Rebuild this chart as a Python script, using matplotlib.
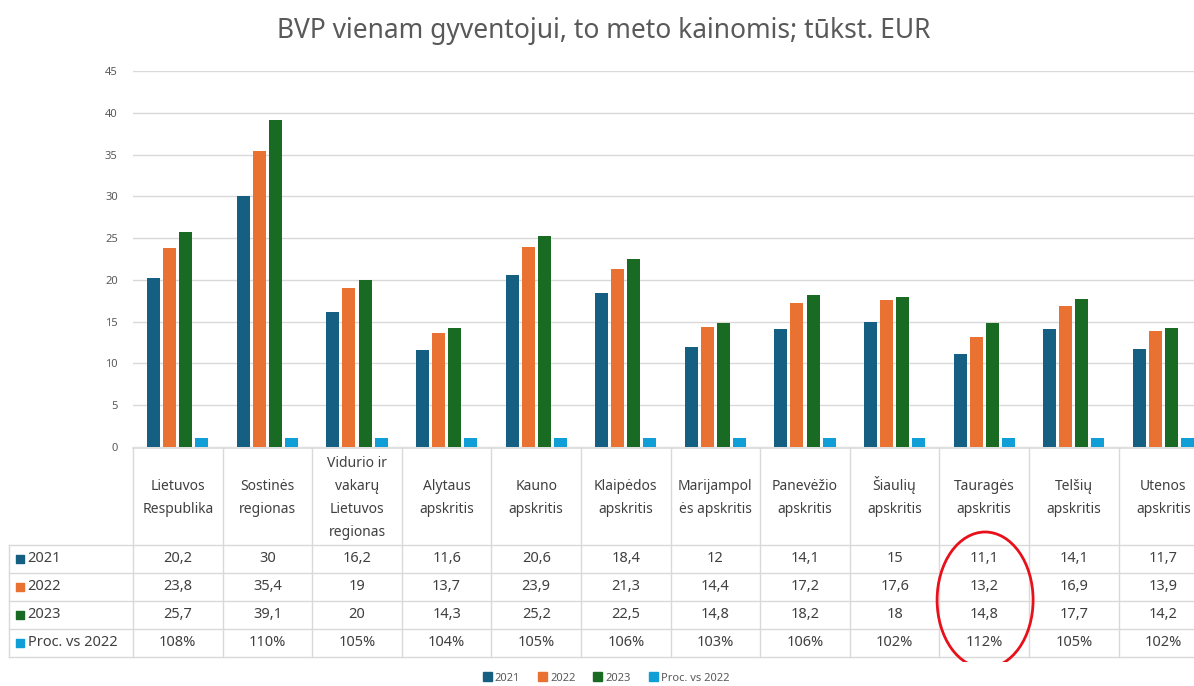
import matplotlib
matplotlib.use("Agg")
import matplotlib.pyplot as plt
import numpy as np
from matplotlib.patches import Ellipse, Patch

plt.rcParams['font.family'] = ['Noto Sans', 'DejaVu Sans']

# duomenys
regions = ["Lietuvos\nRespublika", "Sostinės\nregionas", "Vidurio ir\nvakarų\nLietuvos\nregionas",
           "Alytaus\napskritis", "Kauno\napskritis", "Klaipėdos\napskritis",
           "Marijampol\nės apskritis", "Panevėžio\napskritis", "Šiaulių\napskritis",
           "Tauragės\napskritis", "Telšių\napskritis", "Utenos\napskritis"]
v2021 = [20.2, 30, 16.2, 11.6, 20.6, 18.4, 12, 14.1, 15, 11.1, 14.1, 11.7]
v2022 = [23.8, 35.4, 19, 13.7, 23.9, 21.3, 14.4, 17.2, 17.6, 13.2, 16.9, 13.9]
v2023 = [25.7, 39.1, 20, 14.3, 25.2, 22.5, 14.8, 18.2, 18, 14.8, 17.7, 14.2]
proc = [108, 110, 105, 104, 105, 106, 103, 106, 102, 112, 105, 102]
series_names = ["2021", "2022", "2023", "Proc. vs 2022"]
colors = ["#156082", "#E97132", "#196B24", "#0F9ED5"]

W, H = 1194, 686
fig = plt.figure(figsize=(W / 100, H / 100), dpi=100)

def box(l, t, r, b):
    return [l / W, 1 - b / H, (r - l) / W, (b - t) / H]

cw = 89.6            # stulpelio plotis pikseliais
n = len(regions)
right = 133 + n * cw  # lentele iseina uz paveikslo krasto

# stulpeliai
ax = fig.add_axes(box(133, 71, right, 447))
x = np.arange(n)
series = [v2021, v2022, v2023, [p / 100 for p in proc]]
step = 0.179
for i, (vals, c) in enumerate(zip(series, colors)):
    ax.bar(x + (i - 1.5) * step, vals, width=0.145, color=c, zorder=3)
ax.set_xlim(-0.5, n - 0.5)
ax.set_ylim(0, 45)
ax.set_yticks(range(0, 46, 5))
ax.yaxis.grid(True, color="#d9d9d9", lw=1, zorder=0)
ax.tick_params(axis="y", length=0, labelsize=8, labelcolor="#595959", pad=11)
ax.set_xticks([])
for s in ax.spines.values():
    s.set_visible(False)

fig.text(604 / W, 1 - 31 / H, "BVP vienam gyventojui, to meto kainomis; tūkst. EUR",
         ha="center", va="center", fontsize=19, color="#595959")

# lentele
tx = fig.add_axes(box(8, 447, right, 662))
left_w = (133 - 8) / cw
x0 = -0.5 - left_w + 0.008
tx.set_xlim(-0.5 - left_w, n - 0.5)
tx.set_ylim(662, 447)
tx.axis("off")
lc = "#d9d9d9"
txt = "#404040"
row_y = [545, 573, 601, 629, 657]
tx.plot([-0.5, n - 0.5], [447.5, 447.5], color=lc, lw=1.2)
for k in range(n + 1):
    tx.plot([k - 0.5, k - 0.5], [447.5, 657], color=lc, lw=1)
tx.plot([x0, x0], [545, 657], color=lc, lw=1)
for yy in row_y:
    tx.plot([x0, n - 0.5], [yy, yy], color=lc, lw=1)

# antrastes: kiekviena eilute atskirai, kad Š nepakeistu lygiavimo
for k, lab in enumerate(regions):
    lines = lab.split("\n")
    m = len(lines)
    for j, line in enumerate(lines):
        yb = 496.5 + (j - (m - 1) / 2) * 23 + 5
        tx.text(k, yb, line, ha="center", va="baseline", fontsize=10, color=txt)

def fmt(v):
    return "{:g}".format(v).replace(".", ",")

rows = [[fmt(v) for v in v2021], [fmt(v) for v in v2022], [fmt(v) for v in v2023],
        ["{}%".format(p) for p in proc]]
for r, (vals, name, c) in enumerate(zip(rows, series_names, colors)):
    yc = (row_y[r] + row_y[r + 1]) / 2
    tx.scatter([x0 + 11 / cw], [yc], marker="s", s=40, color=c)
    tx.text(x0 + 19 / cw, yc, name, ha="left", va="center", fontsize=10.5, color=txt)
    for k, v in enumerate(vals):
        tx.text(k, yc, v, ha="center", va="center", fontsize=10.5, color=txt)

# raudona elipse aplink Taurages stulpeli
taur = regions.index("Tauragės\napskritis")
tx.add_patch(Ellipse((taur + 0.01, 600), 96 / cw, 136, fill=False, edgecolor="#e8101a",
                     lw=2, zorder=5))

# legenda
handles = [Patch(color=c, label=s) for c, s in zip(colors, series_names)]
fig.legend(handles=handles, loc="center", bbox_to_anchor=(606 / W, 1 - 678 / H), ncol=4,
           frameon=False, fontsize=8, handlelength=0.8, handleheight=0.8,
           handletextpad=0.3, columnspacing=1.6, labelcolor="#595959")

fig.savefig("out.png", dpi=100)
